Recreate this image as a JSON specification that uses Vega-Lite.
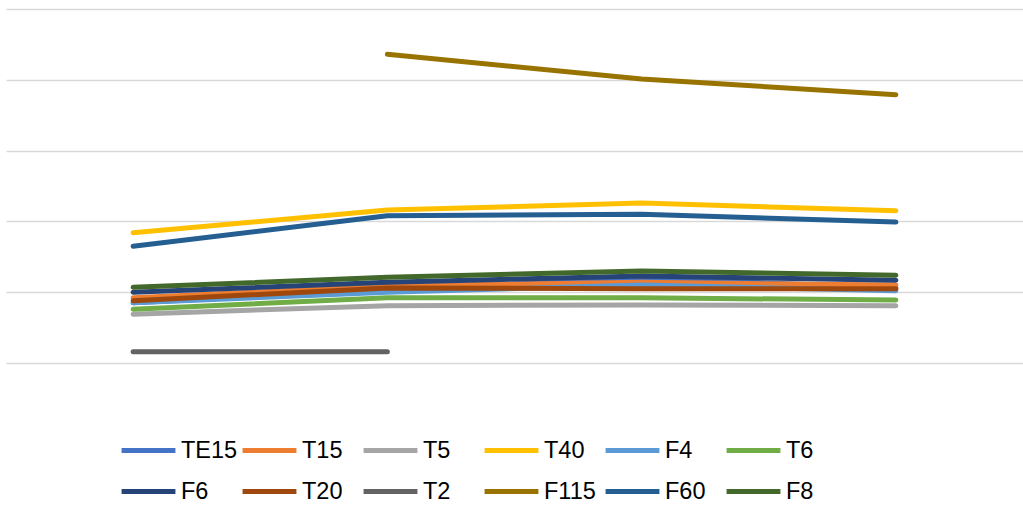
{
  "$schema": "https://vega.github.io/schema/vega-lite/v6.json",
  "width": 1017,
  "height": 354,
  "padding": {"left": 6, "top": 9, "right": 0, "bottom": 0},
  "background": "white",
  "config": {"view": {"stroke": null}, "font": "Liberation Sans"},
  "data": {"values": [
    {"s": "TE15", "x": "1", "v": 8.5}, {"s": "TE15", "x": "2", "v": 10.3}, {"s": "TE15", "x": "3", "v": 12.0}, {"s": "TE15", "x": "4", "v": 10.6},
    {"s": "T15", "x": "1", "v": 9.2}, {"s": "T15", "x": "2", "v": 10.9}, {"s": "T15", "x": "3", "v": 11.4}, {"s": "T15", "x": "4", "v": 11.0},
    {"s": "T5", "x": "1", "v": 6.9}, {"s": "T5", "x": "2", "v": 8.1}, {"s": "T5", "x": "3", "v": 8.2}, {"s": "T5", "x": "4", "v": 8.1},
    {"s": "T40", "x": "1", "v": 18.4}, {"s": "T40", "x": "2", "v": 21.6}, {"s": "T40", "x": "3", "v": 22.6}, {"s": "T40", "x": "4", "v": 21.5},
    {"s": "F4", "x": "1", "v": 8.5}, {"s": "F4", "x": "2", "v": 10.0}, {"s": "F4", "x": "3", "v": 11.0}, {"s": "F4", "x": "4", "v": 10.2},
    {"s": "T6", "x": "1", "v": 7.6}, {"s": "T6", "x": "2", "v": 9.2}, {"s": "T6", "x": "3", "v": 9.2}, {"s": "T6", "x": "4", "v": 8.9},
    {"s": "F6", "x": "1", "v": 10.0}, {"s": "F6", "x": "2", "v": 11.4}, {"s": "F6", "x": "3", "v": 12.3}, {"s": "F6", "x": "4", "v": 11.7},
    {"s": "T20", "x": "1", "v": 8.8}, {"s": "T20", "x": "2", "v": 10.6}, {"s": "T20", "x": "3", "v": 10.5}, {"s": "T20", "x": "4", "v": 10.5},
    {"s": "T2", "x": "1", "v": 1.6}, {"s": "T2", "x": "2", "v": 1.6},
    {"s": "F115", "x": "2", "v": 43.6}, {"s": "F115", "x": "3", "v": 40.1}, {"s": "F115", "x": "4", "v": 37.9},
    {"s": "F60", "x": "1", "v": 16.5}, {"s": "F60", "x": "2", "v": 20.8}, {"s": "F60", "x": "3", "v": 21.0}, {"s": "F60", "x": "4", "v": 19.9},
    {"s": "F8", "x": "1", "v": 10.7}, {"s": "F8", "x": "2", "v": 12.1}, {"s": "F8", "x": "3", "v": 13.0}, {"s": "F8", "x": "4", "v": 12.4}
  ]},
  "mark": {"type": "line", "strokeWidth": 5, "strokeCap": "round", "strokeJoin": "round"},
  "encoding": {
    "x": {"field": "x", "type": "ordinal", "sort": ["1", "2", "3", "4"],
      "scale": {"type": "point", "padding": 0.5},
      "axis": null},
    "y": {"field": "v", "type": "quantitative",
      "scale": {"domain": [0, 50], "nice": false, "zero": true},
      "axis": {"values": [0, 10, 20, 30, 40, 50], "labels": false, "ticks": false, "domain": false, "title": null,
        "grid": true, "gridColor": "#d9d9d9", "gridWidth": 1.3}},
    "color": {"field": "s", "type": "nominal",
      "scale": {"domain": ["TE15", "T15", "T5", "T40", "F4", "T6", "F6", "T20", "T2", "F115", "F60", "F8"],
        "range": ["#4472C4", "#ED7D31", "#A5A5A5", "#FFC000", "#5B9BD5", "#70AD47", "#264478", "#9E480E", "#636363", "#997300", "#255E91", "#43682B"]},
      "legend": {"title": null, "orient": "none", "legendX": 113, "legendY": 412, "direction": "horizontal",
        "columns": 6, "gridAlign": "all", "symbolType": "stroke", "symbolSize": 2900, "symbolStrokeWidth": 5,
        "labelFontSize": 23.5, "labelColor": "#000000", "labelOffset": 3, "columnPadding": -6, "rowPadding": -14,
        "labelFont": "Liberation Sans"}}
  }
}
